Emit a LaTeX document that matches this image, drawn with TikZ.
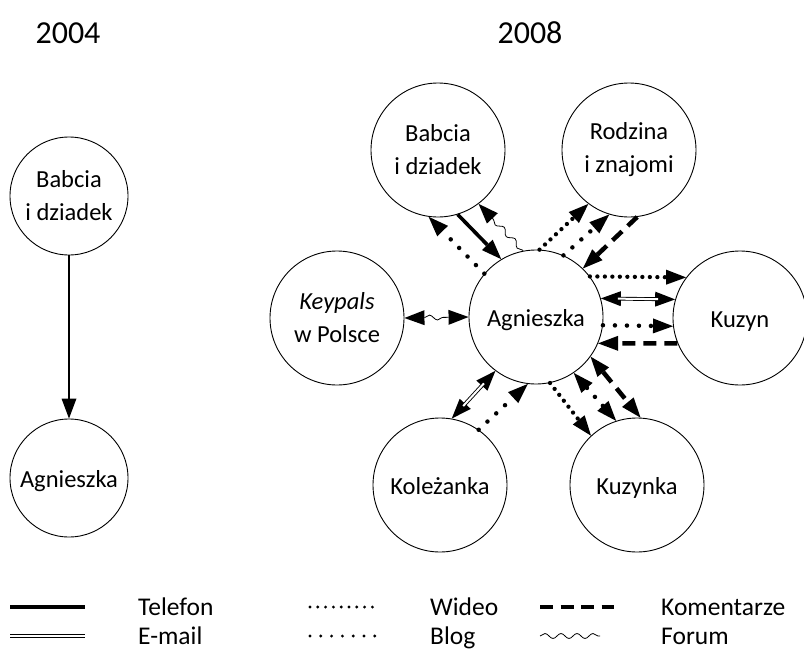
\documentclass[tikz,border=0pt]{standalone}
\usepackage{fontspec}
\setmainfont{Carlito}
\usetikzlibrary{arrows.meta,decorations.pathmorphing}
\tikzset{
  person/.style={circle,draw,line width=0.9pt,minimum size=134pt,inner sep=0pt,align=center,font=\fontsize{24.5}{33}\selectfont},
  oneline/.style={text height=21pt,text depth=3pt},
  smallperson/.style={person,minimum size=118pt},
  yearlbl/.style={font=\fontsize{32}{38}\selectfont,inner sep=0pt},
  legtext/.style={font=\fontsize{25.5}{30}\selectfont,inner sep=0pt,anchor=base west},
  arr/.style={-{Triangle[length=20pt,width=15pt,line width=0pt]}},
  arrb/.style={{Triangle[length=20pt,width=15pt,line width=0pt]}-{Triangle[length=20pt,width=15pt,line width=0pt]}},
  telefon/.style={line width=3.6pt},
  emailline/.style={double,double distance=2pt,line width=0.9pt},
  wideo/.style={line width=4.3pt,line cap=round,dash pattern=on 0pt off 7.5pt},
  blog/.style={line width=4.5pt,line cap=round,dash pattern=on 0pt off 12pt},
  koment/.style={line width=4.5pt,dash pattern=on 13pt off 8pt},
  forum/.style={line width=0.8pt,decorate,decoration={snake,amplitude=2.5pt,segment length=16pt,pre length=1pt,post length=20pt}},
}
\begin{document}
\begin{tikzpicture}[x=1pt,y=-1pt]
\useasboundingbox (0,0) rectangle (804,651);
% years
\node[yearlbl] (y2004) at (68,33) {2004};
\node[yearlbl] (y2008) at (530,33) {2008};
% 2004
\node[smallperson] (b1) at (69,196) {Babcia\\i dziadek};
\node[smallperson,oneline] (a1) at (69,478) {Agnieszka};
\draw[line width=2.6pt,arr] (b1) -- (a1);
% 2008 nodes
\node[person,oneline] (A) at (536,317) {Agnieszka};
\node[person] (B) at (438,150) {Babcia\\i dziadek};
\node[person] (R) at (629,150) {Rodzina\\i znajomi};
\node[person,oneline] (K) at (740,318) {Kuzyn};
\node[person] (P) at (337,318) {\textit{Keypals}\\w Polsce};
\node[person,oneline] (L) at (440,485) {Koleżanka};
\node[person,oneline] (Y) at (637,485) {Kuzynka};
% A - B
\draw[blog,arr] (A.140) -- (B.262);
\draw[telefon,arr] (B.287) -- (A.121);
\draw[forum,arr] (A.101) -- (B.307);
% A - R
\draw[wideo,arr] (A.87) -- (R.233);
\draw[blog,arr] (A.66) -- (R.253);
\draw[koment,arr] (R.277) -- (A.46);
% A - K
\draw[wideo,arr] (A.37) -- (K.143);
\draw[line width=0.9pt,arrb] (A.16) -- (K.164);
\draw[emailline,shorten <=17pt,shorten >=17pt] (A.16) -- (K.164);
\draw[blog,arr] (A.353) -- (K.187);
\draw[koment,arr] (K.202) -- (A.337);
% A - P
\draw[forum,arrb,decoration={pre length=20pt}] (P.0) -- (A.180);
% A - L
\draw[line width=0.9pt,arrb] (L.80) -- (A.233);
\draw[emailline,shorten <=17pt,shorten >=17pt] (L.80) -- (A.233);
\draw[blog,arr] (L.55) -- (A.263);
% A - Y
\draw[wideo,arr] (A.282) -- (Y.133);
\draw[blog,arrb] (A.304) -- (Y.108);
\draw[koment,arrb] (A.324) -- (Y.87);
% legend
\coordinate (l1a) at (10,607); \coordinate (l1b) at (85,607);
\coordinate (l2a) at (10,636); \coordinate (l2b) at (85,636);
\coordinate (l3a) at (310,607); \coordinate (l3b) at (375,607);
\coordinate (l4a) at (310,636); \coordinate (l4b) at (375,636);
\coordinate (l5a) at (540,607); \coordinate (l5b) at (614,607);
\coordinate (l6a) at (540,636); \coordinate (l6b) at (600,636);
\draw[telefon] (l1a) -- (l1b);
\draw[emailline] (l2a) -- (l2b);
\draw[wideo,line width=3.2pt,dash pattern=on 0pt off 7.8pt] (l3a) -- (l3b);
\draw[blog,line width=3.2pt,dash pattern=on 0pt off 10.8pt] (l4a) -- (l4b);
\draw[koment,dash pattern=on 13pt off 7.5pt] (l5a) -- (l5b);
\draw[forum,decoration={pre length=0pt,post length=0pt}] (l6a) -- (l6b);
\node[legtext] (t1) at (138,615) {Telefon};
\node[legtext] (t2) at (138,644) {E-mail};
\node[legtext] (t3) at (430,615) {Wideo};
\node[legtext] (t4) at (430,644) {Blog};
\node[legtext] (t5) at (661,615) {Komentarze};
\node[legtext] (t6) at (661,644) {Forum};
\end{tikzpicture}
\end{document}
